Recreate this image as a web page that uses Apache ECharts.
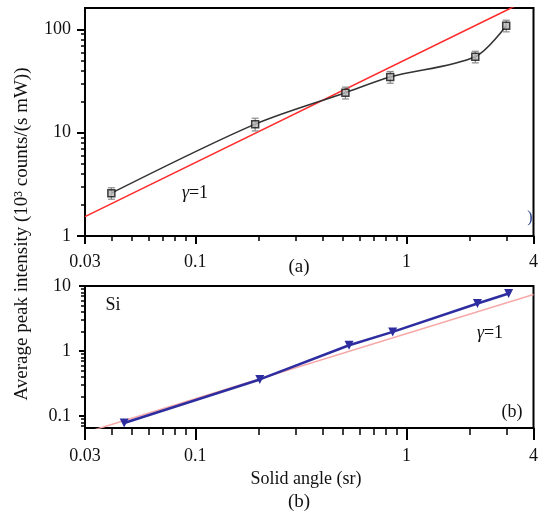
<!DOCTYPE html>
<html>
<head>
<meta charset="utf-8">
<script src="https://cdn.jsdelivr.net/npm/echarts@6/dist/echarts.min.js"></script>
<style>
  html, body { margin: 0; padding: 0; background: #fff; }
  #chart { width: 541px; height: 522px; }
</style>
</head>
<body>
<div id="chart"></div>
<script>
// panel (a): measured points, error bars, gamma=1 guide
const solidAngleA = [0.04, 0.192, 0.514, 0.838, 2.12, 2.97];
const intensityA = [2.6, 12.1, 24.4, 34.6, 54.4, 108.6];
const errorA = [0.33, 1.7, 3.2, 4.5, 7, 14];
const gammaX = [0.03, 4];
const gammaA = [1.54, 205.6];

// panel (b): Si
const solidAngleB = [0.046, 0.202, 0.535, 0.861, 2.17, 3.05];
const intensityB = [0.078, 0.366, 1.23, 1.97, 5.37, 7.64];
const gammaB = [0.0555, 7.4];

// axis ranges and tick labels
const xRange = [0.03, 4];
const yRangeA = [1, 161];
const yRangeB = [0.0655, 10];
const xLabels = [0.03, 0.1, 1, 4];
const yLabelsA = [1, 10, 100];
const yLabelsB = [0.1, 1, 10];

const lg = Math.log10;
const font = '"Liberation Serif", "Times New Roman", serif';

// minor ticks 2..9 of every decade inside range
function minorTicks(range) {
  let out = [];
  for (let d = Math.floor(lg(range[0])); d <= Math.ceil(lg(range[1])); d++) {
    for (let m = 2; m <= 9; m++) {
      let v = m * Math.pow(10, d);
      if (v >= range[0] && v <= range[1]) out.push(lg(v));
    }
  }
  return out;
}
function fmt(v) {
  return String(parseFloat(Math.pow(10, v).toPrecision(3)));
}
function pairs(xs, ys) {
  return xs.map((x, i) => [lg(x), lg(ys[i])]);
}

function mainAxis(grid, range, labels, tickLen, margin, extra) {
  return Object.assign({
    type: 'value',
    gridIndex: grid,
    min: lg(range[0]),
    max: lg(range[1]),
    splitLine: { show: false },
    axisLine: { show: true, onZero: false, lineStyle: { color: '#000', width: 2 } },
    axisTick: {
      show: true, inside: false, length: tickLen,
      customValues: labels.map(lg),
      lineStyle: { color: '#000', width: 2 }
    },
    axisLabel: {
      show: true, margin: margin,
      customValues: labels.map(lg),
      showMinLabel: true, showMaxLabel: true,
      formatter: fmt,
      color: '#111', fontFamily: font, fontSize: 18
    }
  }, extra);
}
function minorAxis(grid, range, tickLen, extra) {
  return Object.assign({
    type: 'value',
    gridIndex: grid,
    min: lg(range[0]),
    max: lg(range[1]),
    splitLine: { show: false },
    axisLine: { show: false, onZero: false },
    axisTick: {
      show: true, inside: false, length: tickLen,
      customValues: minorTicks(range),
      lineStyle: { color: '#000', width: 1.5 }
    },
    axisLabel: { show: false }
  }, extra);
}

const errData = solidAngleA.map((x, i) => [lg(x), lg(intensityA[i] - errorA[i]), lg(intensityA[i] + errorA[i])]);

const option = {
  animation: false,
  backgroundColor: '#fff',
  grid: [
    { left: 85, right: 3.5, top: 8, height: 228, show: true, borderColor: '#000', borderWidth: 2 },
    { left: 85, right: 3.5, top: 286, height: 142, show: true, borderColor: '#000', borderWidth: 2 }
  ],
  xAxis: [
    mainAxis(0, xRange, xLabels, 8, 17, { position: 'bottom' }),
    minorAxis(0, xRange, 5, { position: 'bottom' }),
    mainAxis(1, xRange, xLabels, 12, 19, { position: 'bottom' }),
    minorAxis(1, xRange, 7, { position: 'bottom' })
  ],
  yAxis: [
    mainAxis(0, yRangeA, yLabelsA, 8, 14, { position: 'left' }),
    minorAxis(0, yRangeA, 4, { position: 'left' }),
    mainAxis(1, yRangeB, yLabelsB, 6, 14, { position: 'left' }),
    minorAxis(1, yRangeB, 4, { position: 'left' })
  ],
  series: [
    {
      type: 'line', xAxisIndex: 0, yAxisIndex: 0,
      data: pairs(gammaX, gammaA),
      symbol: 'none', clip: true,
      lineStyle: { color: '#ff2a2a', width: 1.6 }, z: 2
    },
    {
      type: 'line', xAxisIndex: 0, yAxisIndex: 0,
      data: pairs(solidAngleA, intensityA),
      symbol: 'none', smooth: 0.3,
      lineStyle: { color: '#333', width: 1.6 }, z: 3
    },
    {
      type: 'custom', xAxisIndex: 0, yAxisIndex: 0,
      data: errData,
      encode: { x: 0, y: [1, 2] },
      z: 4,
      renderItem: function (params, api) {
        const p1 = api.coord([api.value(0), api.value(1)]);
        const p2 = api.coord([api.value(0), api.value(2)]);
        const w = 3.5;
        const st = { stroke: '#8a8a8a', lineWidth: 1.2 };
        return {
          type: 'group',
          children: [
            { type: 'line', shape: { x1: p1[0], y1: p1[1], x2: p2[0], y2: p2[1] }, style: st },
            { type: 'line', shape: { x1: p1[0] - w, y1: p1[1], x2: p1[0] + w, y2: p1[1] }, style: st },
            { type: 'line', shape: { x1: p2[0] - w, y1: p2[1], x2: p2[0] + w, y2: p2[1] }, style: st }
          ]
        };
      }
    },
    {
      type: 'scatter', xAxisIndex: 0, yAxisIndex: 0,
      data: pairs(solidAngleA, intensityA),
      symbol: 'rect', symbolSize: 7,
      itemStyle: { color: '#b5b5b5', borderColor: '#111', borderWidth: 1.5 }, z: 5
    },
    {
      type: 'line', xAxisIndex: 2, yAxisIndex: 2,
      data: pairs(gammaX, gammaB),
      symbol: 'none', clip: true,
      lineStyle: { color: '#f7a9a9', width: 1.5 }, z: 2
    },
    {
      type: 'line', xAxisIndex: 2, yAxisIndex: 2,
      data: pairs(solidAngleB, intensityB),
      symbol: 'triangle', symbolRotate: 180, symbolSize: 9,
      itemStyle: { color: '#2d2da0' },
      lineStyle: { color: '#2d2da0', width: 2.6 }, z: 3
    }
  ],
  graphic: [
    {
      type: 'text', x: 22, y: 234, rotation: Math.PI / 2,
      style: { text: 'Average peak intensity (10³ counts/(s mW))', font: '19px ' + font, fill: '#111', align: 'center', verticalAlign: 'middle' }
    },
    {
      type: 'text', x: 195, y: 193,
      style: { text: '{g|γ}=1', font: '18px ' + font, fill: '#111', align: 'center', verticalAlign: 'middle',
        rich: { g: { fontStyle: 'italic', fontFamily: font, fontSize: 18, fill: '#111' } } }
    },
    {
      type: 'text', x: 530, y: 218,
      style: { text: ')', font: '16px ' + font, fill: '#27408b', align: 'center', verticalAlign: 'middle' }
    },
    {
      type: 'text', x: 299, y: 267,
      style: { text: '(a)', font: '19px ' + font, fill: '#111', align: 'center', verticalAlign: 'middle' }
    },
    {
      type: 'text', x: 113, y: 305,
      style: { text: 'Si', font: '18px ' + font, fill: '#111', align: 'center', verticalAlign: 'middle' }
    },
    {
      type: 'text', x: 490, y: 333,
      style: { text: '{g|γ}=1', font: '18px ' + font, fill: '#111', align: 'center', verticalAlign: 'middle',
        rich: { g: { fontStyle: 'italic', fontFamily: font, fontSize: 18, fill: '#111' } } }
    },
    {
      type: 'text', x: 512, y: 412,
      style: { text: '(b)', font: '18px ' + font, fill: '#111', align: 'center', verticalAlign: 'middle' }
    },
    {
      type: 'text', x: 306, y: 479,
      style: { text: 'Solid angle (sr)', font: '18px ' + font, fill: '#111', align: 'center', verticalAlign: 'middle' }
    },
    {
      type: 'text', x: 299, y: 502,
      style: { text: '(b)', font: '19px ' + font, fill: '#111', align: 'center', verticalAlign: 'middle' }
    }
  ]
};

const chart = echarts.init(document.getElementById('chart'), null, { renderer: 'canvas' });
chart.setOption(option);
</script>
</body>
</html>
